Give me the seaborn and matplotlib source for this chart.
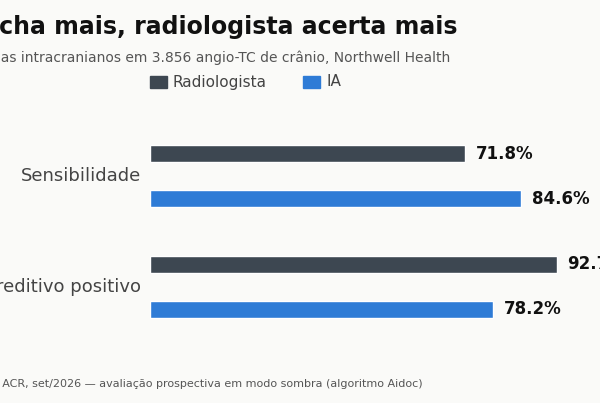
import matplotlib
matplotlib.use("Agg")
import matplotlib.pyplot as plt
import pandas as pd
import seaborn as sns

metricas = ["Sensibilidade", "Valor preditivo positivo"]
radiologista = [71.8, 92.7]
ia = [84.6, 78.2]
grupos = ["Radiologista", "IA"]
cores = ["#3d4751", "#2e7bd6"]

df = pd.DataFrame({
    "metrica": metricas * 2,
    "valor": radiologista + ia,
    "grupo": [grupos[0]] * 2 + [grupos[1]] * 2,
})

sns.set_theme(style="white")
plt.rcParams["font.family"] = ["DejaVu Sans"]
bg = "#fafaf8"
fig = plt.figure(figsize=(6, 4.03), dpi=100, facecolor=bg)
W, H = 600, 403
ax = fig.add_axes([150 / W, 33 / H, 438.7 / W, 277 / H], facecolor=bg)

sns.barplot(data=df, x="valor", y="metrica", hue="grupo", orient="h",
            palette=cores, saturation=1, width=0.81, ax=ax, legend=False)

# thin the bars around their centres
h = 17 / 111
for p in ax.patches:
    c = p.get_y() + p.get_height() / 2
    p.set_height(h)
    p.set_y(c - h / 2)
    ax.text(p.get_width() + 2.4, c, f"{p.get_width():.1f}%", va="center",
            ha="left", fontsize=12, fontweight="bold", color="#111111")

ax.set_xlim(0, 100)
ax.set_ylim(1.75, -0.75)
ax.set_xlabel("")
ax.set_ylabel("")
ax.set_xticks([])
ax.set_yticks([])
for s in ax.spines.values():
    s.set_visible(False)
for i, m in enumerate(metricas):
    ax.text(-2, i, m, ha="right", va="center", fontsize=13, color="#444444")

fig.text(457 / W, 1 - 27 / H, "IA acha mais, radiologista acerta mais",
         ha="right", va="center", fontsize=17, fontweight="bold", color="#111111")
fig.text(450 / W, 1 - 58 / H,
         "Aneurismas intracranianos em 3.856 angio-TC de crânio, Northwell Health",
         ha="right", va="center", fontsize=10, color="#555555")
fig.text(423 / W, 1 - 384 / H,
         "Fonte: ACR, set/2026 — avaliação prospectiva em modo sombra (algoritmo Aidoc)",
         ha="right", va="center", fontsize=8, color="#555555")

# legend
for x0, g, c in [(150, grupos[0], cores[0]), (303, grupos[1], cores[1])]:
    fig.patches.append(plt.Rectangle((x0 / W, 1 - 88 / H), 17 / W, 12 / H,
                                     transform=fig.transFigure, color=c))
    fig.text((x0 + 23) / W, 1 - 82 / H, g, ha="left", va="center",
             fontsize=11, color="#444444")

fig.savefig("out.png", dpi=100, facecolor=bg)
